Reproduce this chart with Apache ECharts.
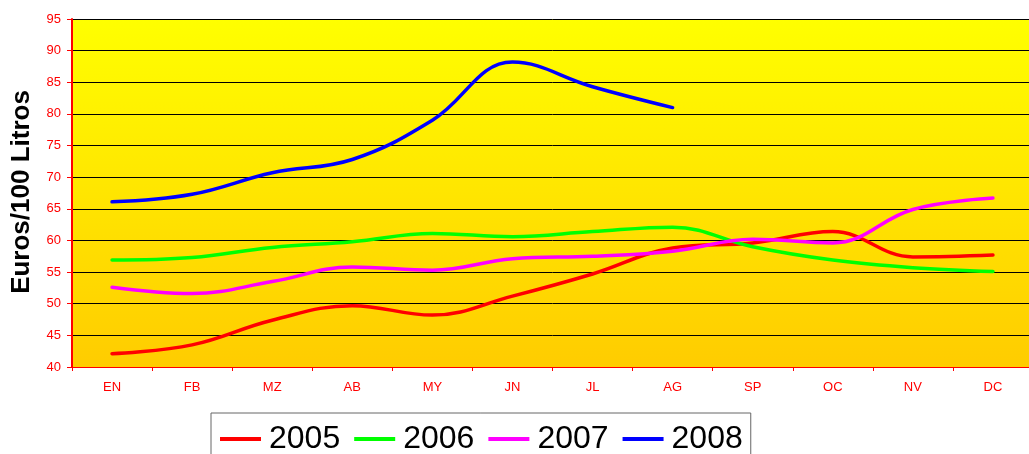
<!DOCTYPE html>
<html>
<head>
<meta charset="utf-8">
<script src="https://cdn.jsdelivr.net/npm/echarts@6/dist/echarts.min.js"></script>
<style>html,body{margin:0;padding:0;background:#fff;overflow:hidden;width:1029px;height:454px;}#c{width:1033px;height:454px;}</style>
</head>
<body>
<div id="c"></div>
<script>
var categories = ['EN','FB','MZ','AB','MY','JN','JL','AG','SP','OC','NV','DC'];
var yTicks = [40,45,50,55,60,65,70,75,80,85,90,95];
var s2005 = [42.1, 43.5, 47.4, 49.7, 48.2, 51.2, 54.7, 58.8, 59.6, 61.4, 57.4, 57.7];
var s2006 = [56.9, 57.3, 58.9, 59.8, 61.1, 60.6, 61.4, 62.1, 59.0, 56.9, 55.7, 55.1];
var s2007 = [52.6, 51.6, 53.5, 55.8, 55.3, 57.1, 57.5, 58.3, 60.2, 59.6, 64.9, 66.7];
var s2008 = [66.1, 67.3, 70.7, 72.8, 79.0, 88.2, 84.3, 81.0];
var names = ['2005','2006','2007','2008'];
var colors = ['#FF0000','#00FF00','#FF00FF','#0000FF'];
var allData = [s2005, s2006, s2007, s2008];

var chart = echarts.init(document.getElementById('c'));
var font = 'Arial, "Liberation Sans", sans-serif';
chart.setOption({
  animation: false,
  color: colors,
  grid: {
    left: 72, top: 19, right: 0, height: 348,
    show: true, borderWidth: 0,
    backgroundColor: new echarts.graphic.LinearGradient(0,0,0,1,[
      {offset:0,color:'#FFFF00'},{offset:1,color:'#FFCC00'}
    ])
  },
  xAxis: {
    type: 'category',
    data: categories,
    boundaryGap: true,
    axisLine: {lineStyle: {color: '#FF0000', width: 1}},
    axisTick: {show: true, length: 4, lineStyle: {color: '#FF0000'}},
    axisLabel: {color: '#FF0000', fontSize: 13, fontFamily: font, margin: 14}
  },
  yAxis: {
    type: 'value',
    min: yTicks[0], max: yTicks[yTicks.length-1], interval: 5,
    axisLine: {show: true, lineStyle: {color: '#FF0000', width: 2}},
    axisTick: {show: true, length: 5, lineStyle: {color: '#FF0000'}},
    axisLabel: {color: '#FF0000', fontSize: 13, fontFamily: font, margin: 11},
    splitLine: {lineStyle: {color: '#000000', width: 1}}
  },
  legend: {
    left: 211, top: 413,
    padding: [10, 8, 20, 9],
    borderColor: '#666', borderWidth: 1,
    backgroundColor: '#fff',
    icon: 'rect', itemWidth: 41, itemHeight: 4, itemGap: 14,
    textStyle: {fontSize: 32, color: '#000', fontFamily: font, padding: [0,0,0,3]},
    data: names
  },
  graphic: [{
    type: 'text', x: 22, y: 192, rotation: Math.PI/2,
    style: {text: 'Euros/100 Litros', font: 'bold 26px Arial, "Liberation Sans", sans-serif',
      fill: '#000', align: 'center', verticalAlign: 'middle'}
  }],
  series: names.map(function(n, i){
    return {
      name: n, type: 'line', data: allData[i], smooth: 0.4,
      symbol: 'none', lineStyle: {width: 3.5, color: colors[i], cap: 'round'}
    };
  })
});
</script>
</body>
</html>
